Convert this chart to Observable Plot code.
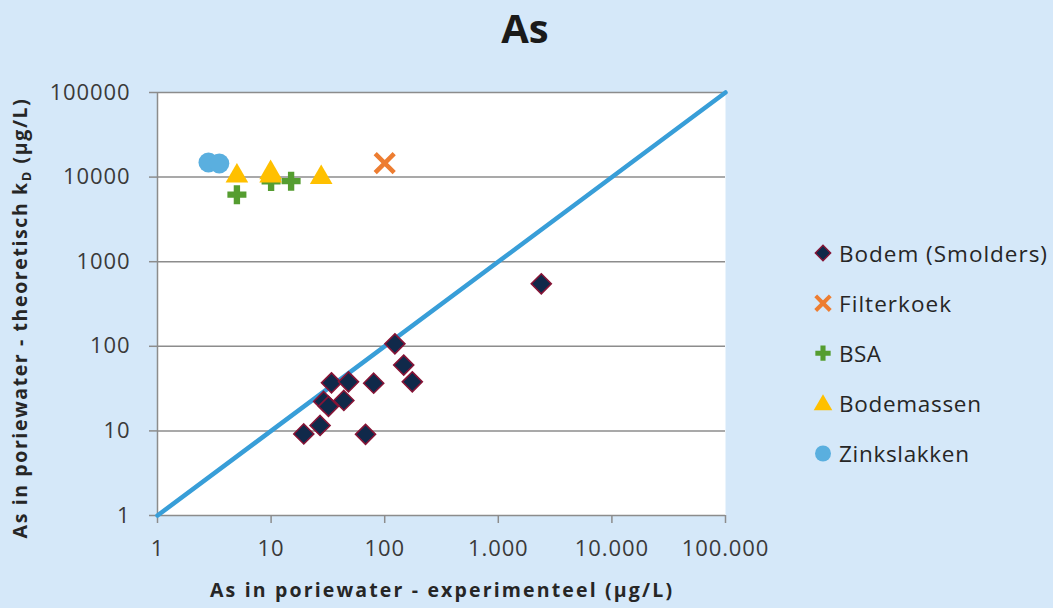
<!DOCTYPE html>
<html>
<head>
<meta charset="utf-8">
<script src="https://cdn.jsdelivr.net/npm/d3@7"></script>
<script src="https://cdn.jsdelivr.net/npm/@observablehq/plot@0.6"></script>
<style>
  html, body { margin: 0; padding: 0; background: #d5e8f9; }
  #wrap { position: relative; width: 1053px; height: 608px; overflow: hidden; font-family: "Open Sans", sans-serif; }
  #chart { position: absolute; left: 0; top: 0; }
  #overlay { position: absolute; left: 0; top: 0; pointer-events: none; }
</style>
</head>
<body>
<div id="wrap">
  <div id="chart"></div>
  <svg id="overlay" width="1053" height="608"></svg>
</div>
<script>
// ---- data ----
const titleText = "As";
const xLabelText = "As in poriewater - experimenteel (µg/L)";
const yLabelMain = "As in poriewater - theoretisch k";
const yLabelSub = "D";
const yLabelTail = " (µg/L)";

const xTicks = [1, 10, 100, 1000, 10000, 100000];
const xTickLabels = ["1", "10", "100", "1.000", "10.000", "100.000"];
const yTicks = [1, 10, 100, 1000, 10000, 100000];
const yTickLabels = ["1", "10", "100", "1000", "10000", "100000"];

const seriesNames = ["Bodem (Smolders)", "Filterkoek", "BSA", "Bodemassen", "Zinkslakken"];

const bodemX = [123, 147, 175, 80, 34, 48, 29, 32, 43.7, 27, 19.4, 67.8, 2390];
const bodemY = [107, 60, 38, 36.6, 37, 38, 22.3, 19.5, 22.9, 11.6, 9.2, 9.1, 548];

const filterX = [100];
const filterY = [14600];

const bsaX = [5, 10, 15];
const bsaY = [6200, 8900, 8950];

const bodemassenX = [5, 9.9, 9.9, 27.6];
const bodemassenY = [10300, 11300, 10300, 9900];

const zinkX = [2.81, 3.5];
const zinkY = [14900, 14500];

const diagX = [1, 100000];
const diagY = [1, 100000];

// ---- helpers ----
const zip = (xs, ys) => xs.map((x, i) => ({x, y: ys[i]}));

const gridColor = "#8c8c8c";
const textColor = "#3a3a3a";

const chart = Plot.plot({
  width: 1053,
  height: 608,
  marginLeft: 157,
  marginRight: 328,
  marginTop: 92,
  marginBottom: 93,
  style: {background: "transparent", fontFamily: "'Open Sans', sans-serif", letterSpacing: "0.9px", overflow: "visible"},
  x: {type: "log", domain: [1, 100000]},
  y: {type: "log", domain: [1, 100000]},
  marks: [
    Plot.frame({fill: "white", stroke: "none"}),
    Plot.gridY(yTicks.slice(1), {stroke: gridColor, strokeOpacity: 1, strokeWidth: 1.5}),
    Plot.ruleX([1], {stroke: gridColor, strokeWidth: 1.5}),
    Plot.ruleY([1], {stroke: gridColor, strokeWidth: 1.5}),
    Plot.axisX({
      ticks: xTicks,
      tickFormat: d => xTickLabels[xTicks.indexOf(d)],
      tickSize: 8, tickPadding: 17, fontSize: 22,
      stroke: gridColor, strokeWidth: 1.5, fill: textColor, label: null
    }),
    Plot.axisY({
      ticks: yTicks,
      tickFormat: d => yTickLabels[yTicks.indexOf(d)],
      tickSize: 8, tickPadding: 19, fontSize: 22,
      stroke: gridColor, strokeWidth: 1.5, fill: textColor, label: null
    }),
    Plot.line(zip(diagX, diagY), {x: "x", y: "y", stroke: "#389ed8", strokeWidth: 4.5}),
    Plot.dot(zip(bodemX, bodemY), {x: "x", y: "y", symbol: "diamond2", r: 9, fill: "#10294a", stroke: "#861436", strokeWidth: 1.6}),
    Plot.dot(zip(filterX, filterY), {x: "x", y: "y", symbol: "times", r: 8.7, stroke: "#ed7d31", strokeWidth: 4.5}),
    Plot.dot(zip(bsaX, bsaY), {x: "x", y: "y", symbol: "cross", r: 8, fill: "#559d30"}),
    Plot.dot(zip(bodemassenX, bodemassenY), {x: "x", y: "y", symbol: "triangle", r: 8.4, fill: "#ffc000"}),
    Plot.dot(zip(zinkX, zinkY), {x: "x", y: "y", symbol: "circle", r: 10, fill: "#5aafdf"})
  ]
});
document.getElementById("chart").appendChild(chart);

// ---- title, axis titles, legend ----
const ov = d3.select("#overlay");
ov.append("text")
  .attr("x", 525).attr("y", 43)
  .attr("text-anchor", "middle")
  .attr("font-family", "'Open Sans', sans-serif")
  .attr("font-size", 40).attr("font-weight", "bold")
  .attr("fill", "#1a1a1a")
  .text(titleText);

ov.append("text")
  .attr("x", 441).attr("y", 597)
  .attr("text-anchor", "middle")
  .attr("font-family", "'Open Sans', sans-serif")
  .attr("font-size", 19.5).attr("font-weight", "bold")
  .attr("fill", "#262626")
  .attr("textLength", 462).attr("lengthAdjust", "spacing")
  .text(xLabelText);

const yl = ov.append("text")
  .attr("transform", "translate(27,318) rotate(-90)")
  .attr("text-anchor", "middle")
  .attr("font-family", "'Open Sans', sans-serif")
  .attr("font-size", 19.5).attr("font-weight", "bold")
  .attr("letter-spacing", "1.6px")
  .attr("fill", "#262626");
yl.append("tspan").text(yLabelMain);
yl.append("tspan").attr("font-size", 13).attr("dy", 4).text(yLabelSub);
yl.append("tspan").attr("dy", -4).text(yLabelTail);

const legendStyles = [
  {type: d3.symbolDiamond2, size: 150, fill: "#10294a", stroke: "#861436", sw: 1.4},
  {type: d3.symbolTimes, size: 140, fill: "none", stroke: "#ed7d31", sw: 4},
  {type: d3.symbolCross, size: 130, fill: "#559d30", stroke: "none", sw: 0},
  {type: d3.symbolTriangle, size: 150, fill: "#ffc000", stroke: "none", sw: 0},
  {type: d3.symbolCircle, size: 200, fill: "#5aafdf", stroke: "none", sw: 0}
];
const legendWidths = [208, 112, 42, 142, 130];
const baselines = [261.5, 311.7, 361.7, 412, 462];
seriesNames.forEach((name, i) => {
  const s = legendStyles[i];
  const cy = baselines[i] - 8.5;
  ov.append("path")
    .attr("transform", `translate(823,${cy + (i === 3 ? 1.5 : 0)})`)
    .attr("d", d3.symbol().type(s.type).size(s.size)())
    .attr("fill", s.fill).attr("stroke", s.stroke).attr("stroke-width", s.sw);
  ov.append("text")
    .attr("x", 839).attr("y", baselines[i])
    .attr("font-family", "'Open Sans', sans-serif")
    .attr("font-size", 22.5)
    .attr("fill", "#262626")
    .attr("textLength", legendWidths[i]).attr("lengthAdjust", "spacing")
    .text(name);
});
</script>
</body>
</html>
